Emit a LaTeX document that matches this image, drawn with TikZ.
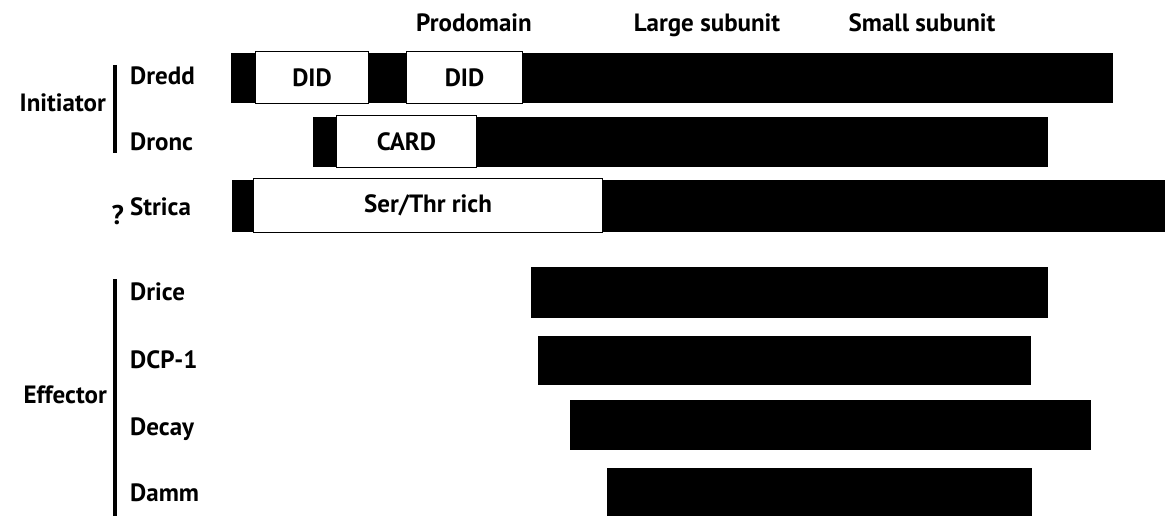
\documentclass[tikz,border=0pt]{standalone}
\usepackage{fontspec}
\setmainfont{PT Sans}
\tikzset{
  txt/.style={font=\fontsize{25}{29}\selectfont\bfseries, inner sep=0pt},
  lbl/.style={txt, anchor=base west},
  hdr/.style={txt, anchor=base},
  dom/.style={txt, draw=black, fill=white, line width=1.3pt},
  bar/.style={fill=black}
}
\begin{document}
\begin{tikzpicture}[x=1pt,y=-1pt]
\useasboundingbox (0,0) rectangle (1165,516);
% column headings
\node[hdr] (pro) at (474,32) {Prodomain};
\node[hdr] (large) at (707,32) {Large subunit};
\node[hdr] (small) at (922,32) {Small subunit};
% initiator group
\node[txt, anchor=base east] (init) at (106,112) {Initiator};
\draw[line width=3.5pt] (115,65) -- (115,153);
\node[lbl] (dredd) at (130,85) {Dredd};
\node[lbl] (dronc) at (130,150) {Dronc};
\node[txt, font=\fontsize{27}{30}\selectfont\bfseries, anchor=base east] (q) at (124,224) {?};
\node[lbl] (strica) at (130,215) {Strica};
% effector group
\node[txt, anchor=base east] (eff) at (107,403) {Effector};
\draw[line width=3.5pt] (115,279) -- (115,516);
\node[lbl] (drice) at (130,300) {Drice};
\node[lbl] (dcp) at (130,368) {DCP-1};
\node[lbl] (decay) at (130,435) {Decay};
\node[lbl] (damm) at (130,501) {Damm};
% Dredd
\fill[bar] (231,53) rectangle (1113,103);
\node[dom, minimum width=113pt, minimum height=52pt] (did1) at (312,77.5) {DID};
\node[dom, minimum width=116pt, minimum height=52pt] (did2) at (464.5,77.5) {DID};
% Dronc
\fill[bar] (313,117) rectangle (1048,167);
\node[dom, minimum width=140pt, minimum height=52pt] (card) at (406.5,141.5) {CARD};
% Strica
\fill[bar] (232,180) rectangle (1165,232);
\node[dom, minimum width=349pt, minimum height=54pt] (serthr) at (428,205.5) {Ser/Thr rich};
% effectors
\fill[bar] (531,267) rectangle (1048,318);
\fill[bar] (538,336) rectangle (1031,385);
\fill[bar] (570,400) rectangle (1091,450);
\fill[bar] (607,468) rectangle (1032,516);
\end{tikzpicture}
\end{document}
